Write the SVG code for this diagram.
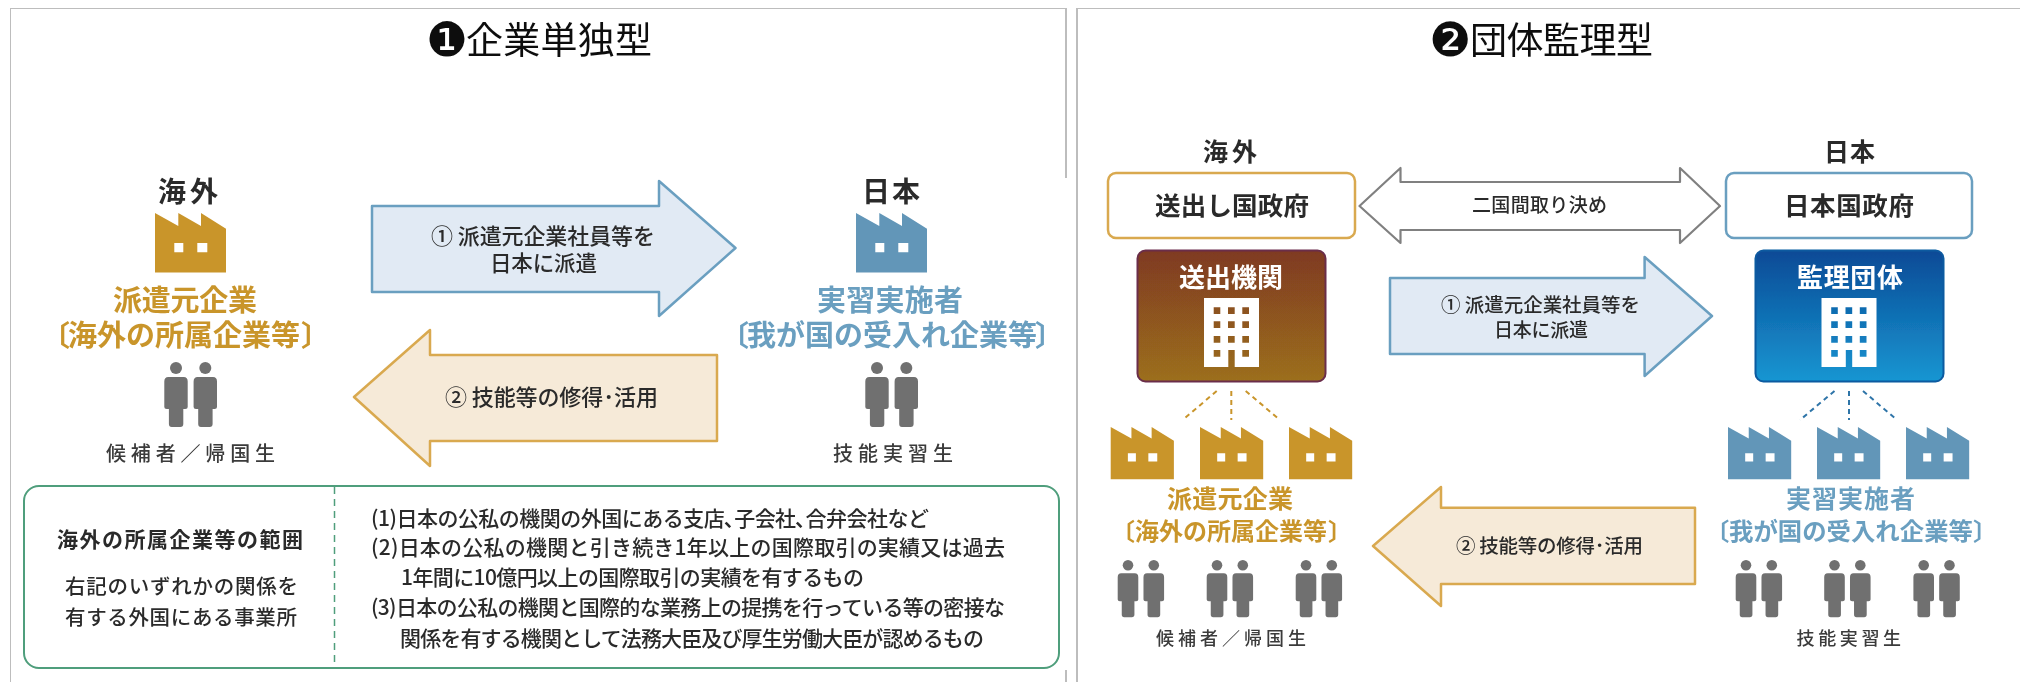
<svg xmlns="http://www.w3.org/2000/svg" width="2020" height="682" viewBox="0 0 2020 682">
<style>
text{font-family:"Noto Sans CJK JP","Noto Sans",sans-serif;fill:#2b2b2b}
.b{font-weight:700}
.m{font-weight:500}
.title{font-size:37px;fill:#111}
.mark{font-family:"DejaVu Sans",sans-serif;font-size:47px;fill:#111}
.gold{fill:#c9952c;font-weight:700}
.blue{fill:#6a9fc0;font-weight:700}
.w{fill:#fff;font-weight:700}
.panel{fill:none;stroke:#bdbdbd;stroke-width:2}
.ab{fill:#e1eaf4;stroke:#6a9fc0;stroke-width:2.500;stroke-linejoin:round}
.ag{fill:#f6ead8;stroke:#d9a94f;stroke-width:2.500;stroke-linejoin:round}
.ad{fill:#fff;stroke:#808080;stroke-width:2.200;stroke-linejoin:round}
.dg{stroke:#c9952c;stroke-width:2;stroke-dasharray:5 4;fill:none}
.db{stroke:#2f74a8;stroke-width:2;stroke-dasharray:5 4;fill:none}
.fg{fill:#c9952c}.fb{fill:#6296b8}
.lab{fill:#3a3a3a;font-weight:500}
</style>
<defs>
<filter id="soft" x="0" y="0" width="100%" height="100%"><feGaussianBlur stdDeviation="0.45"/></filter>
<path id="factory" fill-rule="evenodd" d="M0 0L23.300 13V0L46 13V0L71 15.700V59.600H0ZM19.300 30V39.300H28.300V30ZM42.300 30V39.300H52.300V30Z"/>
<g id="person" fill="#707070">
<circle cx="11.700" cy="6" r="6"/>
<path d="M4 15H19.400Q23.400 15 23.400 19.500V45Q23.400 47 21 47H19V62Q19 65 16 65H7.400Q4.600 65 4.600 62V47H2.400Q0 47 0 45V19.500Q0 15 4 15Z"/>
</g>
<g id="pair"><use href="#person" x="-11.700"/><use href="#person" x="17.600"/></g>
<linearGradient id="gb" x1="0" y1="0" x2="0" y2="1"><stop offset="0" stop-color="#7f3a20"/><stop offset="1" stop-color="#9c6f1f"/></linearGradient>
<linearGradient id="gm" x1="0" y1="0" x2="0" y2="1"><stop offset="0" stop-color="#0a4a96"/><stop offset="1" stop-color="#1796d2"/></linearGradient>
<path id="bld" fill="#fff" fill-rule="evenodd" d="M0 0H55V69H30.700V52H24.300V69H0ZM9.700 9.300V16H16.300V9.300ZM24 9.300V16H30.700V9.300ZM38.300 9.300V16H45V9.300ZM9.700 23.300V30H16.300V23.300ZM24 23.300V30H30.700V23.300ZM38.300 23.300V30H45V23.300ZM9.700 38V44.700H16.300V38ZM24 38V44.700H30.700V38ZM38.300 38V44.700H45V38ZM9.700 52V58.700H16.300V52ZM38.300 52V58.700H45V52Z"/>
</defs>
<rect width="2020" height="682" fill="#fff"/>
<g filter="url(#soft)">
<g id="panels">
<path class="panel" d="M10 682V8H1066V178M1066 670V682"/>
<path class="panel" d="M1077 682V8H2020"/>
<text class="mark" x="426" y="56">❶</text>
<text class="title" x="466" y="54" textLength="186">企業単独型</text>
<text class="mark" x="1429" y="56">❷</text>
<text class="title" x="1470" y="54" textLength="183">団体監理型</text>
</g>

<g id="connectors">
<path id="a1" class="ab" d="M372 206H659V181L735.500 248L659 316V292H372Z"/>
<path id="a2" class="ag" d="M717 355H430V330L354 397L430 466V441H717Z"/>
<path id="a3" class="ad" d="M1400.500 182H1680V168L1720 206L1680 243V230H1400.500V243L1359.500 206L1400.500 168Z"/>
<path id="a4" class="ab" d="M1390 278H1644.600V257L1712 316L1644.600 376V354H1390Z"/>
<path id="a5" class="ag" d="M1695 507.700H1441V487L1373 546L1441 606V584H1695Z"/>
<path class="dg" d="M1216.700 391L1182.700 420M1231.300 391V420M1245.700 391L1280 420"/>
<path class="db" d="M1834.500 391L1800 420M1849 391V420M1863 391L1897 420"/>
<text class="m" x="431" y="244" font-size="22" textLength="224">① 派遣元企業社員等を</text>
<text class="m" x="490" y="271" font-size="21.500" textLength="107">日本に派遣</text>
<text class="m" x="445" y="405" font-size="22" textLength="213">② 技能等の修得･活用</text>
<text class="m" x="1472" y="212" font-size="19" textLength="135">二国間取り決め</text>
<text class="m" x="1441" y="312" font-size="19.500" textLength="199">① 派遣元企業社員等を</text>
<text class="m" x="1494" y="337" font-size="19" textLength="94">日本に派遣</text>
<text class="m" x="1456" y="553" font-size="19.500" textLength="187">② 技能等の修得･活用</text>
</g>

<g id="kaigai1">
<text class="b" x="158" y="202" font-size="28" textLength="60">海外</text>
<use href="#factory" x="155" y="213" class="fg"/>
<text class="gold" x="113" y="311" font-size="29" textLength="144">派遣元企業</text>
<text class="gold" y="346" font-size="29"><tspan x="41">〔</tspan><tspan x="68">海外の所属企業等</tspan><tspan x="301">〕</tspan></text>
<use href="#pair" x="176" y="362"/>
<text class="lab" x="106" y="461" font-size="20" textLength="169">候補者／帰国生</text>
</g>

<g id="nihon1">
<text class="b" x="862" y="202" font-size="28" textLength="58">日本</text>
<use href="#factory" x="856" y="213" class="fb"/>
<text class="blue" x="817" y="311" font-size="29" textLength="146">実習実施者</text>
<text class="blue" y="346" font-size="29"><tspan x="720">〔</tspan><tspan x="747">我が国の受入れ企業等</tspan><tspan x="1035">〕</tspan></text>
<use href="#pair" x="877" y="362"/>
<text class="lab" x="833" y="461" font-size="20" textLength="120">技能実習生</text>
</g>

<g id="scope">
<rect x="24" y="486" width="1035" height="182" rx="15" fill="#fff" stroke="#4f9e7c" stroke-width="2"/>
<path d="M334.500 487V667" stroke="#4f9e7c" stroke-width="1.500" stroke-dasharray="7 5"/>
<text class="b" x="57" y="547" font-size="21" textLength="246">海外の所属企業等の範囲</text>
<text class="m" x="65" y="594" font-size="20.500" textLength="233">右記のいずれかの関係を</text>
<text class="m" x="65" y="625" font-size="20.500" textLength="232">有する外国にある事業所</text>
<g class="m" font-size="21">
<text x="371" y="526" textLength="558">(1)日本の公私の機関の外国にある支店､子会社､合弁会社など</text>
<text x="371" y="555" textLength="634">(2)日本の公私の機関と引き続き1年以上の国際取引の実績又は過去</text>
<text x="401" y="585" textLength="463">1年間に10億円以上の国際取引の実績を有するもの</text>
<text x="371" y="615" textLength="634">(3)日本の公私の機関と国際的な業務上の提携を行っている等の密接な</text>
<text x="400" y="646" textLength="584">関係を有する機関として法務大臣及び厚生労働大臣が認めるもの</text>
</g>
</g>

<g id="kaigai2">
<text class="b" x="1203" y="161" font-size="25" textLength="54">海外</text>
</g>
<g id="nihon2">
<text class="b" x="1824" y="161" font-size="25" textLength="51">日本</text>
</g>
<g id="gov-sending">
<rect x="1108" y="173" width="247" height="65" rx="8" fill="#fff" stroke="#d9a94f" stroke-width="2.500"/>
<text class="b" x="1155" y="215" font-size="25.500" textLength="154">送出し国政府</text>
</g>
<g id="gov-japan">
<rect x="1726" y="173" width="246" height="65" rx="8" fill="#fff" stroke="#6a9fc0" stroke-width="2.500"/>
<text class="b" x="1784" y="215" font-size="25.500" textLength="130">日本国政府</text>
</g>
<g id="sending-org">
<rect x="1137.500" y="250.500" width="188" height="131" rx="8" fill="url(#gb)" stroke="#6b2d4a" stroke-width="2"/>
<text class="w" x="1179" y="287" font-size="26" textLength="104">送出機関</text>
<use href="#bld" x="1204" y="298"/>
</g>
<g id="supervising-org">
<rect x="1755.500" y="250.500" width="188" height="131" rx="8" fill="url(#gm)" stroke="#0d5aa0" stroke-width="2"/>
<text class="w" x="1797" y="287" font-size="26" textLength="106">監理団体</text>
<use href="#bld" x="1821.500" y="298"/>
</g>
<g id="dispatch2">
<g class="fg">
<use href="#factory" transform="translate(1110.700 427) scale(.89 .875)"/>
<use href="#factory" transform="translate(1200 427) scale(.89 .875)"/>
<use href="#factory" transform="translate(1289 427) scale(.89 .875)"/>
</g>
<text class="gold" x="1167" y="508" font-size="25" textLength="126">派遣元企業</text>
<text class="gold" y="540" font-size="24"><tspan x="1111">〔</tspan><tspan x="1135">海外の所属企業等</tspan><tspan x="1328">〕</tspan></text>
<use href="#pair" transform="translate(1128 560) scale(.88)"/>
<use href="#pair" transform="translate(1217 560) scale(.88)"/>
<use href="#pair" transform="translate(1306 560) scale(.88)"/>
<text class="lab" x="1156" y="645" font-size="18" textLength="150">候補者／帰国生</text>
</g>
<g id="intern2">
<g class="fb">
<use href="#factory" transform="translate(1728 427) scale(.89 .875)"/>
<use href="#factory" transform="translate(1817 427) scale(.89 .875)"/>
<use href="#factory" transform="translate(1906 427) scale(.89 .875)"/>
</g>
<text class="blue" x="1786" y="508" font-size="25" textLength="129">実習実施者</text>
<text class="blue" y="540" font-size="24.400"><tspan x="1705">〔</tspan><tspan x="1729">我が国の受入れ企業等</tspan><tspan x="1973">〕</tspan></text>
<use href="#pair" transform="translate(1746 560) scale(.88)"/>
<use href="#pair" transform="translate(1834.500 560) scale(.88)"/>
<use href="#pair" transform="translate(1923.700 560) scale(.88)"/>
<text class="lab" x="1796.500" y="645" font-size="18" textLength="104.500">技能実習生</text>
</g>
</g>
</svg>
